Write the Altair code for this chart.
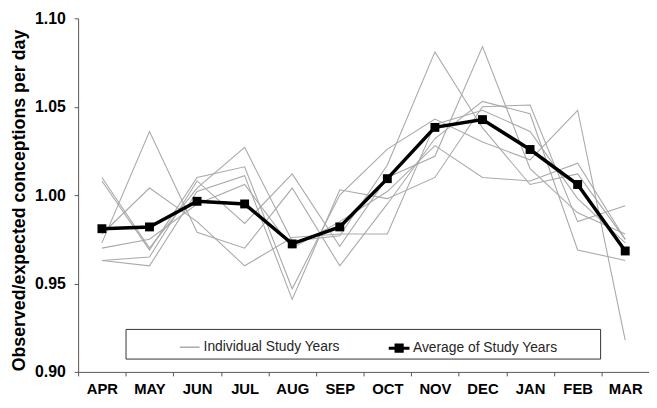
import altair as alt
import pandas as pd

months = ["APR", "MAY", "JUN", "JUL", "AUG", "SEP", "OCT", "NOV", "DEC", "JAN", "FEB", "MAR"]

average = [0.981, 0.982, 0.9965, 0.995, 0.9724, 0.982, 1.0093, 1.0383, 1.0427, 1.0258, 1.006, 0.9684]

year1 = [0.973, 1.036, 0.979, 0.970, 1.004, 0.960, 0.995, 1.032, 1.053, 1.046, 0.969, 0.963]
year2 = [1.010, 0.970, 1.004, 1.027, 0.974, 0.977, 1.017, 1.081, 1.038, 1.006, 1.012, 0.975]
year3 = [1.008, 0.969, 1.010, 1.016, 0.947, 1.000, 1.026, 1.043, 1.030, 1.020, 1.048, 0.918]
year4 = [0.963, 0.965, 1.008, 0.984, 1.012, 0.971, 1.010, 1.022, 1.084, 1.015, 0.990, 0.978]
year5 = [0.963, 0.960, 1.002, 1.011, 0.941, 1.003, 0.998, 1.010, 1.050, 1.051, 0.985, 0.994]
year6 = [0.978, 1.004, 0.985, 0.960, 0.976, 0.978, 0.978, 1.040, 1.048, 1.036, 0.998, 0.973]
year7 = [0.970, 0.975, 0.995, 1.006, 0.970, 0.985, 1.002, 1.028, 1.010, 1.008, 1.018, 0.975]

years = [year1, year2, year3, year4, year5, year6, year7]

rows = []
for i, ys in enumerate(years):
    for m, v in zip(months, ys):
        rows.append({"month": m, "value": v, "year": f"Y{i+1}", "kind": "Individual Study Years"})
ind_df = pd.DataFrame(rows)
avg_df = pd.DataFrame({"month": months, "value": average, "kind": "Average of Study Years"})

FONT = "Liberation Sans"

x_enc = alt.X(
    "month:O",
    sort=months,
    bandPosition=0.5,
    scale=alt.Scale(type="band", paddingInner=0, paddingOuter=0),
    axis=alt.Axis(
        title=None,
        tickBand="extent",
        labelAngle=0,
        labelFontSize=15,
        labelFontWeight="bold",
        labelColor="#000000",
        labelPadding=6,
        tickSize=4,
        tickColor="#555555",
        domainColor="#555555",
        grid=False,
    ),
)
y_enc = alt.Y(
    "value:Q",
    scale=alt.Scale(domain=[0.90, 1.10], nice=False, zero=False),
    axis=alt.Axis(
        title="Observed/expected conceptions per day",
        titleFontSize=18,
        titleFontWeight="bold",
        titleColor="#000000",
        titlePadding=6,
        titleY=184,
        values=[0.90, 0.95, 1.00, 1.05, 1.10],
        format=".2f",
        labelFontSize=16,
        labelFontWeight="bold",
        labelColor="#000000",
        labelPadding=9,
        tickSize=4,
        tickColor="#555555",
        domainColor="#555555",
        grid=False,
    ),
)

frame = alt.Chart(pd.DataFrame({"k": [0]})).mark_rect(
    fill="white", stroke="#333333", strokeWidth=1
).encode(
    x=alt.value(48.5), x2=alt.value(529), y=alt.value(315), y2=alt.value(345)
)

ind = alt.Chart(ind_df).mark_line(strokeWidth=1.1).encode(
    x=x_enc,
    y=y_enc,
    detail="year:N",
    color=alt.Color(
        "kind:N",
        scale=alt.Scale(domain=["Individual Study Years"], range=["#a9a9a9"]),
        legend=alt.Legend(
            title=None,
            orient="none",
            legendX=102,
            legendY=322,
            padding=0,
            symbolType="stroke",
            symbolSize=400,
            symbolStrokeWidth=1.5,
            labelFontSize=14,
            labelColor="#262626",
            labelOffset=3,
            labelFont=FONT,
        ),
    ),
)

avg_line = alt.Chart(avg_df).mark_line(strokeWidth=3.5).encode(
    x=x_enc,
    y=y_enc,
    color=alt.Color(
        "kind:N",
        scale=alt.Scale(domain=["Average of Study Years"], range=["#000000"]),
        legend=alt.Legend(
            title=None,
            orient="none",
            legendX=313,
            legendY=322,
            padding=0,
            symbolType="M-1,0H1M-0.3,-0.3H0.3V0.3H-0.3Z",
            symbolSize=441,
            symbolFillColor="#000000",
            symbolStrokeWidth=3,
            labelFontSize=14,
            labelColor="#262626",
            labelOffset=2,
            labelFont=FONT,
        ),
    ),
)

avg_pts = alt.Chart(avg_df).mark_point(
    filled=True, shape="square", color="#000000", opacity=1, size=81
).encode(x=x_enc, y=y_enc)

chart = (
    alt.layer(frame, ind, avg_line, avg_pts)
    .resolve_scale(color="independent")
    .properties(
        width=578,
        height=358,
        padding={"left": 71, "top": 8, "right": 0, "bottom": 26},
        autosize=alt.AutoSizeParams(type="none"),
    )
    .configure(font=FONT)
    .configure_view(strokeWidth=0)
    .configure_axis(labelFont=FONT, titleFont=FONT)
)

chart.save("out.html", embed_options={"renderer": "svg", "actions": False})
